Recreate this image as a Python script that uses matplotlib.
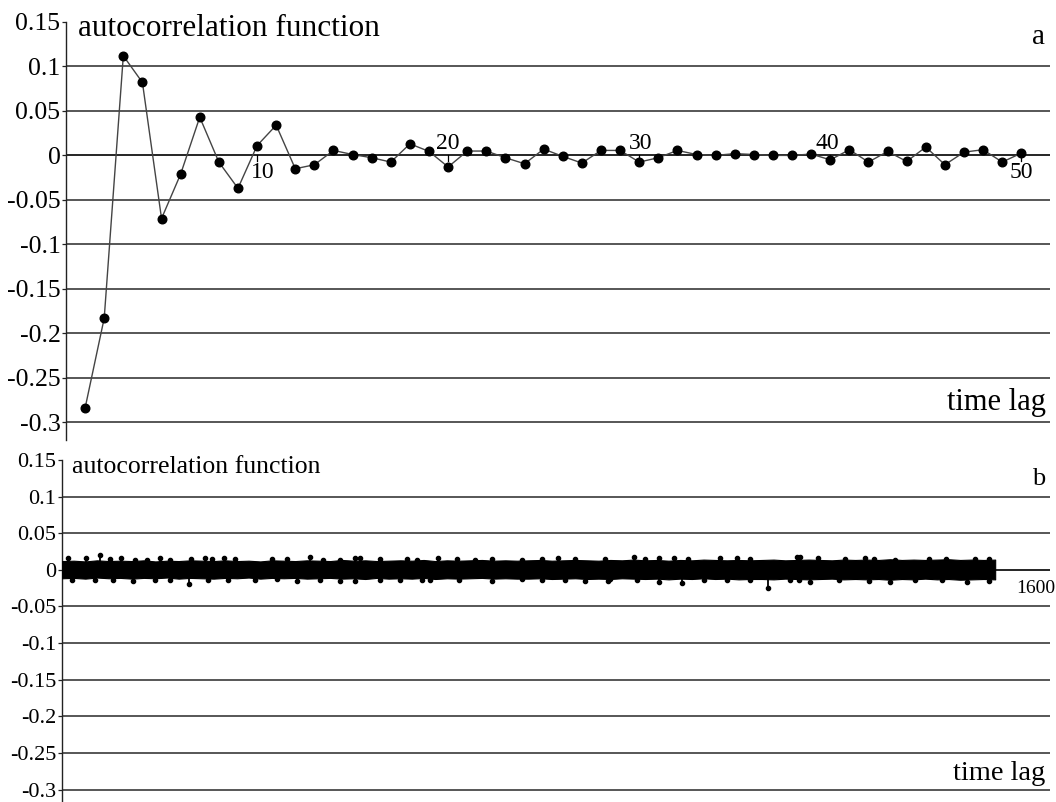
import matplotlib
matplotlib.use("Agg")
import matplotlib.pyplot as plt

plt.rcParams['font.family'] = ['Liberation Serif', 'DejaVu Serif']

# ---- panel a: autocorrelation, lags 1..50 ----
lags_a = list(range(1, 51))
acf_a = [-0.284, -0.183, 0.112, 0.082, -0.071, -0.021, 0.043, -0.0075, -0.037, 0.011,
         0.034, -0.015, -0.0105, 0.0056, 0.001, -0.0026, -0.0075, 0.013, 0.0045, -0.013,
         0.0049, 0.0049, -0.0026, -0.0094, 0.0071, -0.0011, -0.0086, 0.0056, 0.0056, -0.0075,
         -0.0026, 0.0056, 0.001, 0.0, 0.002, 0.001, 0.0, 0.0, 0.0015, -0.005,
         0.0064, -0.0075, 0.0045, -0.0068, 0.0094, -0.0105, 0.0037, 0.0064, -0.0075, 0.0026]
lag_ticks_a = [10, 20, 30, 40, 50]
lag_labels_a = ['10', '20', '30', '40', '50']
yticks = [0.15, 0.1, 0.05, 0, -0.05, -0.1, -0.15, -0.2, -0.25, -0.3]
ytick_labels = ['0.15', '0.1', '0.05', '0', '-0.05', '-0.1', '-0.15', '-0.2', '-0.25', '-0.3']
grid_levels = [0.1, 0.05, -0.05, -0.1, -0.15, -0.2, -0.25, -0.3]

# ---- panel b: autocorrelation, lags 1..1600 (envelope of the dense band + outliers) ----
band_lag = list(range(0, 1601, 20))
band_hi = [0.012, 0.0125, 0.0115, 0.013, 0.012, 0.0125, 0.012, 0.013, 0.0115, 0.0125,
           0.012, 0.013, 0.0125, 0.012, 0.013, 0.012, 0.0125, 0.0115, 0.013, 0.0125,
           0.012, 0.013, 0.0125, 0.012, 0.0135, 0.0125, 0.013, 0.012, 0.0125, 0.013,
           0.0125, 0.0135, 0.012, 0.013, 0.0125, 0.013, 0.0135, 0.0125, 0.013, 0.0125,
           0.013, 0.0135, 0.0125, 0.013, 0.0135, 0.013, 0.0125, 0.0135, 0.013, 0.014,
           0.013, 0.0135, 0.0125, 0.0135, 0.013, 0.014, 0.0135, 0.013, 0.0135, 0.013,
           0.0135, 0.014, 0.013, 0.0135, 0.014, 0.0135, 0.013, 0.014, 0.0135, 0.014,
           0.0135, 0.0145, 0.0135, 0.014, 0.0135, 0.014, 0.0145, 0.0135, 0.014, 0.0135,
           0.014]
band_lo = [-0.0115, -0.011, -0.012, -0.0105, -0.0115, -0.011, -0.012, -0.011, -0.0115, -0.0105,
           -0.012, -0.011, -0.0115, -0.012, -0.011, -0.0115, -0.0105, -0.012, -0.011, -0.0115,
           -0.011, -0.012, -0.0115, -0.011, -0.012, -0.0115, -0.0125, -0.011, -0.012, -0.0115,
           -0.012, -0.011, -0.0125, -0.0115, -0.012, -0.0115, -0.011, -0.012, -0.0115, -0.012,
           -0.012, -0.0115, -0.0125, -0.012, -0.0115, -0.0125, -0.012, -0.0125, -0.0115, -0.012,
           -0.0125, -0.012, -0.013, -0.012, -0.0125, -0.0115, -0.0125, -0.012, -0.013, -0.0125,
           -0.0125, -0.013, -0.012, -0.0125, -0.013, -0.0125, -0.012, -0.013, -0.0125, -0.013,
           -0.0125, -0.0135, -0.0125, -0.013, -0.012, -0.013, -0.0125, -0.0135, -0.013, -0.0125,
           -0.013]
peak_lag = [11, 42, 65, 82, 102, 125, 145, 168, 185, 222, 245, 257, 277, 297,
            360, 385, 425, 448, 477, 503, 511, 545, 591, 608,
            645, 677, 708, 737, 788, 823, 851, 880, 931,
            980, 1000, 1023, 1049, 1074, 1129, 1157, 1180, 1260,
            1266, 1297, 1343, 1377, 1392, 1429, 1486, 1515, 1566, 1589]
peak_val = [0.0168, 0.0168, 0.0205, 0.015, 0.016, 0.0137, 0.0137, 0.016, 0.0137, 0.015, 0.016, 0.015, 0.016, 0.015,
            0.015, 0.015, 0.018, 0.0137, 0.0137, 0.0168, 0.016, 0.015, 0.015, 0.0137,
            0.0168, 0.015, 0.0137, 0.015, 0.0137, 0.015, 0.016, 0.015, 0.015,
            0.018, 0.015, 0.016, 0.016, 0.015, 0.0168, 0.016, 0.015, 0.018,
            0.018, 0.016, 0.015, 0.0168, 0.015, 0.0137, 0.015, 0.015, 0.015, 0.015]
dip_lag = [17, 57, 88, 122, 160, 185, 217, 251, 285,
           331, 368, 403, 443, 477, 503, 545, 580, 617,
           631, 680, 737, 788, 823, 863, 897, 937,
           940, 986, 1023, 1063, 1100, 1140, 1180, 1211, 1249,
           1263, 1283, 1332, 1383, 1420, 1463, 1509, 1552, 1589]
dip_val = [-0.0137, -0.0137, -0.0137, -0.015, -0.0137, -0.0137, -0.0196, -0.0137, -0.0137,
           -0.0137, -0.0123, -0.015, -0.0137, -0.015, -0.015, -0.0137, -0.0137, -0.0137,
           -0.0137, -0.0137, -0.015, -0.0123, -0.0137, -0.0137, -0.015, -0.015,
           -0.0123, -0.0137, -0.016, -0.018, -0.0137, -0.0137, -0.0137, -0.025, -0.0137,
           -0.0137, -0.0165, -0.0137, -0.015, -0.0165, -0.0137, -0.0137, -0.016, -0.015]

W, H = 1056, 802
fig = plt.figure(figsize=(W / 100, H / 100), dpi=100)
fig.patch.set_facecolor('white')


def fx(px):
    return px / W


def fy(py):
    return 1 - py / H


def style_axes(ax, xmax, ylo, fsize):
    ax.set_xlim(0, xmax)
    ax.set_ylim(ylo, 0.15)
    for s in ('top', 'right', 'bottom'):
        ax.spines[s].set_visible(False)
    ax.spines['left'].set_linewidth(1.0)
    ax.spines['left'].set_color('#222222')
    ax.set_yticks(yticks)
    ax.set_yticklabels(ytick_labels, fontsize=fsize)
    ax.tick_params(axis='y', length=3, width=0.9, pad=1, colors='#222222', labelcolor='black')
    ax.set_xticks([])
    for g in grid_levels:
        ax.axhline(g, color='#3a3a3a', lw=1.2, zorder=1)
    ax.axhline(0, color='black', lw=1.2, zorder=1)


# panel a
ax1 = fig.add_axes([fx(66), fy(440), fx(1050 - 66), fy(22) - fy(440)])
style_axes(ax1, 51.5, -0.32, 18.5)
ax1.plot(lags_a, acf_a, color='#444444', lw=1.0, zorder=3)
ax1.plot(lags_a, acf_a, 'o', color='black', ms=6.2, zorder=4)
for t in lag_ticks_a:
    ax1.plot([t, t], [0.0, -0.006], color='black', lw=0.9, zorder=2)
label_dx = {10: 0.3, 20: 0.0, 30: 0.07, 40: -0.15, 50: 0.0}
label_y = {10: -0.019, 20: 0.0135, 30: 0.0135, 40: 0.0135, 50: -0.019}
for t, lab in zip(lag_ticks_a, lag_labels_a):
    ax1.text(t + label_dx[t], label_y[t], lab, fontsize=17, ha='center', va='center', zorder=5)
fig.text(fx(78), fy(36), 'autocorrelation function', fontsize=22.5, va='baseline', ha='left')
fig.text(fx(1046), fy(410), 'time lag', fontsize=22, va='baseline', ha='right')
fig.text(fx(1045), fy(44), 'a', fontsize=21, va='baseline', ha='right')

# panel b
ax2 = fig.add_axes([fx(62), 0, fx(1050 - 62), fy(460)])
style_axes(ax2, 1694, -0.317, 16)
ax2.fill_between(band_lag, band_lo, band_hi, color='black', lw=0.8, edgecolor='black', zorder=3)
ax2.vlines(peak_lag, 0, peak_val, color='black', lw=1.3, zorder=3)
ax2.vlines(dip_lag, 0, dip_val, color='black', lw=1.3, zorder=3)
ax2.plot(peak_lag, peak_val, 'o', color='black', ms=3.0, zorder=4)
ax2.plot(dip_lag, dip_val, 'o', color='black', ms=3.0, zorder=4)
fig.text(fx(1055), fy(593), '1600', fontsize=14, va='baseline', ha='right')
fig.text(fx(72), fy(473), 'autocorrelation function', fontsize=18.5, va='baseline', ha='left')
fig.text(fx(1045), fy(780), 'time lag', fontsize=20.5, va='baseline', ha='right')
fig.text(fx(1045), fy(485), 'b', fontsize=19, va='baseline', ha='right')

fig.savefig('out.png', dpi=100, facecolor='white')
